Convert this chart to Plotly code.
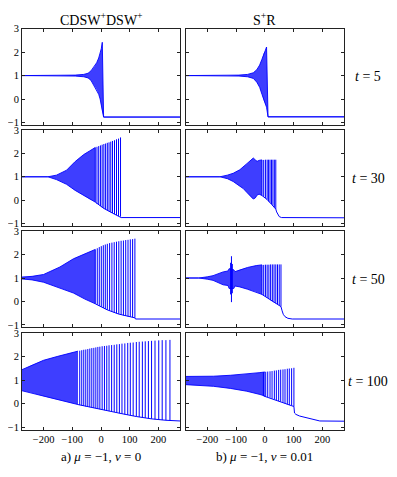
import plotly.graph_objects as go

# ---------------- data ----------------
# Each panel: dense-band envelope (env_x, up, lo), individual spikes (sx, st, sb),
# and the trough / background line to the right (tx, ty).

# a) t = 5
a5_x = [-275, -150, -120, -90, -60, -45, -35, -25, -15, -8, -3, 1, 4.5, 9, 275]
a5_up = [1, 1, 1.01, 1.02, 1.05, 1.1, 1.2, 1.35, 1.55, 1.75, 1.95, 2.15, 2.42, -0.77, -0.77]
a5_lo = [1, 1, 0.99, 0.98, 0.95, 0.9, 0.8, 0.6, 0.4, 0.2, 0.0, -0.3, -0.55, -0.77, -0.77]

# b) t = 5
b5_x = [-275, -130, -90, -60, -40, -28, -18, -10, -4, 1, 5.9, 11, 275]
b5_up = [1, 1, 1.02, 1.05, 1.12, 1.25, 1.45, 1.7, 1.95, 2.05, 2.22, -0.76, -0.76]
b5_lo = [1, 1, 0.98, 0.95, 0.88, 0.72, 0.5, 0.2, -0.05, -0.2, -0.35, -0.76, -0.76]

# a) t = 30
a30_x = [-275, -185, -155, -120, -90, -60, -40, -20]
a30_up = [1, 1, 1.07, 1.28, 1.65, 1.95, 2.1, 2.25]
a30_lo = [1, 1, 0.88, 0.68, 0.42, 0.2, 0.05, -0.08]
a30_sx = [-20, -14, -8, -2, 4, 10, 16, 22, 28, 34, 40, 47, 54, 61, 68]
a30_st = [2.25, 2.28, 2.31, 2.34, 2.37, 2.4, 2.42, 2.45, 2.47, 2.5, 2.53, 2.56, 2.6, 2.63, 2.68]
a30_sb = [-0.08, -0.15, -0.2, -0.25, -0.3, -0.35, -0.39, -0.43, -0.47, -0.51, -0.55, -0.59, -0.63, -0.67, -0.7]
a30_tx = [-20, 10, 40, 68, 70, 275]
a30_ty = [-0.08, -0.35, -0.55, -0.7, -0.74, -0.74]

# b) t = 30
b30_x = [-275, -156, -130, -110, -87, -75, -63, -46, -40, -33, -27, -20, -10]
b30_up = [1, 1, 1.07, 1.15, 1.3, 1.43, 1.55, 1.75, 1.8, 1.72, 1.66, 1.7, 1.72]
b30_lo = [1, 1, 0.92, 0.8, 0.6, 0.5, 0.34, 0.12, 0.05, 0.1, 0.22, 0.26, 0.2]
b30_sx = [-10, -4, 2, 8, 13, 18, 23, 28, 33, 38]
b30_st = [1.72, 1.72, 1.73, 1.73, 1.73, 1.73, 1.73, 1.73, 1.73, 1.73]
b30_sb = [0.2, 0.15, 0.1, 0.03, -0.05, -0.1, -0.17, -0.23, -0.3, -0.38]
b30_tx = [-10, 8, 23, 38, 41, 45, 50, 58, 275]
b30_ty = [0.2, 0.03, -0.17, -0.38, -0.5, -0.62, -0.7, -0.74, -0.75]

# a) t = 50
a50_x = [-275, -240, -200, -143, -96, -56, -20]
a50_up = [1.04, 1.07, 1.15, 1.47, 1.82, 2.04, 2.22]
a50_lo = [0.96, 0.92, 0.82, 0.57, 0.36, 0.1, -0.1]
a50_sx = [-20, -13, -6, 1, 8, 15, 22, 30, 38, 46, 54, 62, 70, 78, 86, 94, 102, 110, 118]
a50_st = [2.22, 2.27, 2.32, 2.36, 2.4, 2.43, 2.46, 2.49, 2.51, 2.53, 2.55, 2.57, 2.59, 2.6, 2.62, 2.63, 2.65, 2.66, 2.68]
a50_sb = [-0.1, -0.14, -0.19, -0.23, -0.28, -0.32, -0.36, -0.4, -0.44, -0.48, -0.51, -0.54, -0.57, -0.6, -0.62, -0.64, -0.66, -0.68, -0.7]
a50_tx = [-20, 22, 62, 102, 118, 120, 275]
a50_ty = [-0.1, -0.36, -0.54, -0.66, -0.7, -0.75, -0.75]

# b) t = 50
b50_x = [-275, -230, -200, -180, -145, -128, -124, -108, -104, -87, -60, -30, -10]
b50_up = [1, 1, 1.05, 1.1, 1.26, 1.3, 1.4, 1.35, 1.27, 1.35, 1.45, 1.53, 1.56]
b50_lo = [1, 1, 0.95, 0.9, 0.71, 0.68, 0.55, 0.55, 0.66, 0.62, 0.52, 0.4, 0.3]
b50_sx = [-119, -116, -113, -10, -4, 2, 8, 14, 20, 26, 32, 38, 44, 50, 56]
b50_st = [1.65, 1.93, 1.6, 1.56, 1.56, 1.57, 1.57, 1.57, 1.58, 1.58, 1.58, 1.58, 1.58, 1.58, 1.58]
b50_sb = [0.3, -0.03, 0.35, 0.3, 0.25, 0.2, 0.15, 0.1, 0.05, 0.0, -0.04, -0.08, -0.12, -0.16, -0.22]
b50_tx = [-10, 20, 44, 56, 60, 64, 70, 80, 95, 275]
b50_ty = [0.3, 0.05, -0.12, -0.22, -0.4, -0.55, -0.65, -0.72, -0.75, -0.75]

# a) t = 100
a100_x = [-275, -240, -200, -150, -100, -80]
a100_up = [1.45, 1.65, 1.85, 2.02, 2.18, 2.24]
a100_lo = [0.55, 0.45, 0.32, 0.17, 0.02, -0.04]
a100_sx = [-74, -67, -60, -53, -46, -39, -32, -25, -18, -11, -4, 4, 12, 20, 28, 37, 46,
           55, 64, 73, 83, 93, 102, 112, 123, 133, 144, 154, 165, 176, 188, 201, 213, 226, 240]
a100_st = [2.26, 2.28, 2.3, 2.31, 2.33, 2.35, 2.37, 2.38, 2.4, 2.42, 2.43, 2.45, 2.46, 2.47, 2.49, 2.5, 2.51,
           2.53, 2.54, 2.56, 2.57, 2.59, 2.6, 2.61, 2.63, 2.64, 2.65, 2.66, 2.67, 2.68, 2.69, 2.7, 2.71, 2.71, 2.72]
a100_sb = [-0.06, -0.08, -0.1, -0.12, -0.13, -0.15, -0.17, -0.19, -0.2, -0.22, -0.24, -0.26, -0.28, -0.3, -0.32, -0.34, -0.36,
           -0.38, -0.41, -0.43, -0.46, -0.48, -0.5, -0.53, -0.55, -0.57, -0.59, -0.61, -0.63, -0.65, -0.67, -0.68, -0.7, -0.71, -0.72]
a100_tx = [-80, -32, 20, 73, 123, 176, 226, 240, 243, 275]
a100_ty = [-0.04, -0.17, -0.3, -0.43, -0.55, -0.65, -0.71, -0.72, -0.74, -0.74]

# b) t = 100
b100_x = [-275, -179, -120, -63, -20, 0]
b100_up = [1.16, 1.17, 1.21, 1.26, 1.32, 1.35]
b100_lo = [0.81, 0.74, 0.65, 0.53, 0.4, 0.33]
b100_sx = [-5, 3, 10, 18, 25, 33, 40, 48, 55, 63, 70, 78, 85, 93, 101]
b100_st = [1.35, 1.36, 1.37, 1.38, 1.39, 1.41, 1.42, 1.44, 1.45, 1.46, 1.47, 1.49, 1.5, 1.51, 1.53]
b100_sb = [0.33, 0.3, 0.28, 0.25, 0.21, 0.18, 0.15, 0.11, 0.08, 0.04, 0.01, -0.03, -0.06, -0.09, -0.12]
b100_tx = [-5, 33, 70, 93, 101, 103, 108, 121, 150, 168, 191, 275]
b100_ty = [0.33, 0.18, 0.01, -0.09, -0.12, -0.4, -0.46, -0.53, -0.62, -0.67, -0.74, -0.75]

col_titles = ["CDSW<sup>+</sup>DSW<sup>+</sup>", "S<sup>+</sup>R"]
row_labels = ["<i>t</i> = 5", "<i>t</i> = 30", "<i>t</i> = 50", "<i>t</i> = 100"]
captions = ["a) <i>μ</i> = −1, <i>ν</i> = 0", "b) <i>μ</i> = −1, <i>ν</i> = 0.01"]
x_ticks = [-200, -100, 0, 100, 200]
y_ticks = [-1, 0, 1, 2, 3]

# ---------------- figure ----------------
OFF = 8                      # page body margin in the browser
W, H = 397 - OFF, 477 - 2 * OFF
BLUE = "#0000ff"
FONT = "Liberation Serif, Times New Roman, serif"

panels = [
    (a5_x, a5_up, a5_lo, [], [], [], [], []),
    (b5_x, b5_up, b5_lo, [], [], [], [], []),
    (a30_x, a30_up, a30_lo, a30_sx, a30_st, a30_sb, a30_tx, a30_ty),
    (b30_x, b30_up, b30_lo, b30_sx, b30_st, b30_sb, b30_tx, b30_ty),
    (a50_x, a50_up, a50_lo, a50_sx, a50_st, a50_sb, a50_tx, a50_ty),
    (b50_x, b50_up, b50_lo, b50_sx, b50_st, b50_sb, b50_tx, b50_ty),
    (a100_x, a100_up, a100_lo, a100_sx, a100_st, a100_sb, a100_tx, a100_ty),
    (b100_x, b100_up, b100_lo, b100_sx, b100_st, b100_sb, b100_tx, b100_ty),
]

# panel frames in page pixels (left, right) / (top, bottom)
col_px = [(22, 180), (185.7, 344)]
row_px = [(24, 122), (127, 225), (230, 328), (334, 432)]


def fx(px):
    return (px - OFF) / W


def fy(py):
    return 1 - (py - OFF) / H


fig = go.Figure()
layout = dict(
    width=W, height=H,
    margin=dict(l=0, r=0, t=0, b=0),
    paper_bgcolor="white", plot_bgcolor="white",
    showlegend=False,
    font=dict(family=FONT, size=11, color="black"),
)

for i, (ex, eu, el, sx, st, sb, tx, ty) in enumerate(panels):
    r, c = divmod(i, 2)
    n = i + 1
    xa = "x" if n == 1 else f"x{n}"
    ya = "y" if n == 1 else f"y{n}"
    # dense band as a filled polygon (no outline so its end has no edge)
    fig.add_trace(go.Scatter(
        x=list(ex) + list(ex)[::-1], y=list(eu) + list(el)[::-1],
        mode="none", fill="toself", fillcolor="rgba(20,20,255,0.82)",
        xaxis=xa, yaxis=ya, hoverinfo="skip"))
    # upper and lower edges of the band
    for edge in (eu, el):
        fig.add_trace(go.Scatter(x=ex, y=edge, mode="lines",
                                 line=dict(color=BLUE, width=0.9),
                                 xaxis=xa, yaxis=ya, hoverinfo="skip"))
    # individual spikes
    if sx:
        xs, ys = [], []
        for xv, t, b in zip(sx, st, sb):
            xs += [xv, xv, None]
            ys += [b, t, None]
        fig.add_trace(go.Scatter(x=xs, y=ys, mode="lines",
                                 line=dict(color=BLUE, width=1),
                                 xaxis=xa, yaxis=ya, hoverinfo="skip"))
    if tx:
        fig.add_trace(go.Scatter(x=tx, y=ty, mode="lines",
                                 line=dict(color=BLUE, width=1),
                                 xaxis=xa, yaxis=ya, hoverinfo="skip"))

    x0, x1 = col_px[c]
    y0, y1 = row_px[r]
    axis_common = dict(showline=True, mirror="allticks", linecolor="#222", linewidth=1,
                       ticks="inside", ticklen=3, tickwidth=1, tickcolor="#222",
                       showgrid=False, zeroline=False, fixedrange=True,
                       tickfont=dict(family=FONT, size=10.5, color="black"))
    layout["xaxis" if n == 1 else f"xaxis{n}"] = dict(
        axis_common, domain=[fx(x0), fx(x1)], range=[-275, 275],
        tickvals=x_ticks, ticktext=[("−" if v < 0 else "") + str(abs(v)) for v in x_ticks],
        showticklabels=(r == 3), anchor=ya)
    layout["yaxis" if n == 1 else f"yaxis{n}"] = dict(
        axis_common, domain=[fy(y1), fy(y0)], range=[-1.11, 3],
        tickvals=y_ticks, ticktext=[("−" if v < 0 else "") + str(abs(v)) for v in y_ticks],
        showticklabels=(c == 0), anchor=xa)

ann = []
for c, txt in enumerate(col_titles):
    cx = (col_px[c][0] + col_px[c][1]) / 2
    ann.append(dict(text=txt, x=fx(cx), y=fy(14), xref="paper", yref="paper",
                    xanchor="center", yanchor="middle",
                    showarrow=False, font=dict(family=FONT, size=14, color="black")))
for r, txt in enumerate(row_labels):
    cy = (row_px[r][0] + row_px[r][1]) / 2
    ann.append(dict(text=txt, x=fx(368), y=fy(cy), xref="paper", yref="paper",
                    xanchor="center", yanchor="middle",
                    showarrow=False, font=dict(family=FONT, size=14, color="black")))
for c, txt in enumerate(captions):
    cx = (col_px[c][0] + col_px[c][1]) / 2
    ann.append(dict(text=txt, x=fx(cx), y=0, xref="paper", yref="paper",
                    xanchor="center", yanchor="bottom",
                    showarrow=False, font=dict(family=FONT, size=13, color="black")))
layout["annotations"] = ann

fig.update_layout(**layout)
fig.write_html("out.html")
